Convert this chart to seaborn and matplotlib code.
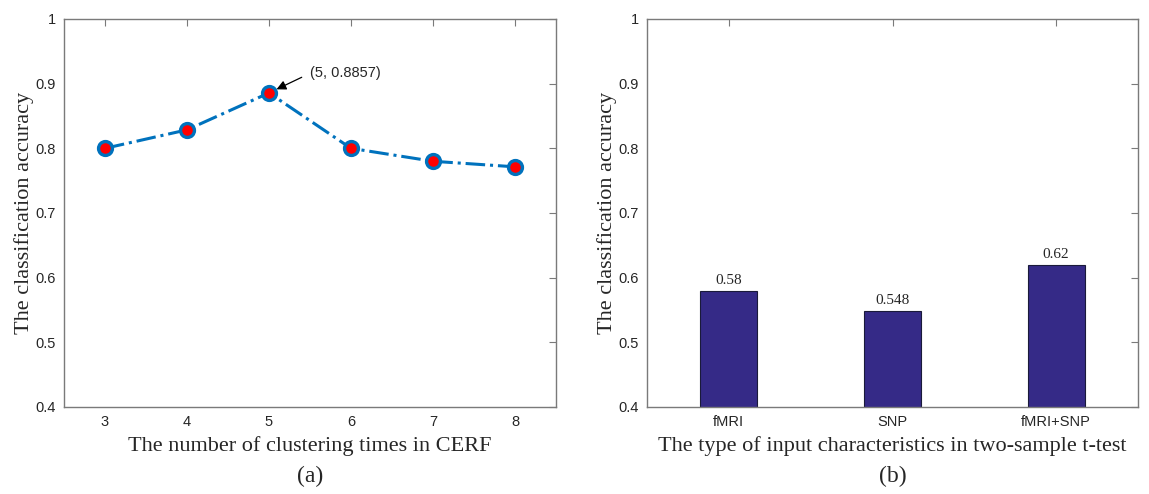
import numpy as np
import pandas as pd
import matplotlib
matplotlib.use("Agg")
import matplotlib.pyplot as plt
import seaborn as sns

# data
cluster_times = [3, 4, 5, 6, 7, 8]
cluster_acc = [0.8, 0.8286, 0.8857, 0.8, 0.78, 0.7714]

input_types = ["fMRI", "SNP", "fMRI+SNP"]
input_acc = [0.58, 0.548, 0.62]
bar_labels = ["0.58", "0.548", "0.62"]

yticks = [0.4, 0.5, 0.6, 0.7, 0.8, 0.9, 1.0]
ytick_labels = ["0.4", "0.5", "0.6", "0.7", "0.8", "0.9", "1"]

sns.set_style("white")
plt.rcParams["font.family"] = ["Liberation Sans", "DejaVu Sans"]

line_blue = "#0072BD"
bar_col = "#352A87"
spine_col = "#7a7a7a"
serif = ["Liberation Serif", "DejaVu Serif"]

fig = plt.figure(figsize=(11.49, 4.94), dpi=100)
ax1 = fig.add_axes([64 / 1149, 1 - 407 / 494, (556 - 64) / 1149, (407 - 19) / 494])
ax2 = fig.add_axes([647 / 1149, 1 - 407 / 494, (1138 - 647) / 1149, (407 - 19) / 494])


def matlab_box(ax):
    for s in ax.spines.values():
        s.set_visible(True)
        s.set_color(spine_col)
        s.set_linewidth(1.0)
    ax.tick_params(direction="in", length=5, width=0.8, color=spine_col,
                   top=True, right=True, labelsize=10.5, labelcolor="#262626", pad=6)
    ax.set_yticks(yticks)
    ax.set_yticklabels(ytick_labels)
    ax.set_ylim(0.4, 1.0)


# (a) line chart
df_a = pd.DataFrame({"times": cluster_times, "acc": cluster_acc})
sns.lineplot(data=df_a, x="times", y="acc", ax=ax1, color=line_blue,
             linestyle="-.", linewidth=2.2, marker="o", markersize=10,
             markerfacecolor="red", markeredgecolor=line_blue, markeredgewidth=2.4)
matlab_box(ax1)
ax1.set_xlim(2.5, 8.5)
ax1.set_xticks(cluster_times)
ax1.set_xlabel("The number of clustering times in CERF", fontsize=16, family=serif, labelpad=5)
ax1.set_ylabel("The classification accuracy", fontsize=16, family=serif, labelpad=1)
ax1.annotate("(5, 0.8857)", xy=(cluster_times[2], cluster_acc[2]), xytext=(5.5, 0.916),
             fontsize=10.5, va="center", ha="left",
             arrowprops=dict(arrowstyle="-|>", color="black", lw=0.9, relpos=(0, 0.5),
                             shrinkA=4, shrinkB=6, mutation_scale=14))

# (b) bar chart
df_b = pd.DataFrame({"type": input_types, "acc": input_acc})
sns.barplot(data=df_b, x="type", y="acc", ax=ax2, color=bar_col, width=0.35,
            edgecolor="#1a1a3a", linewidth=0.8, saturation=1)
matlab_box(ax2)
ax2.set_xlim(-0.5, 2.5)
for i, v in enumerate(input_acc):
    ax2.text(i, v + 0.006, bar_labels[i], ha="center", va="bottom",
             fontsize=11, family=serif)
ax2.set_xlabel("The type of input characteristics in two-sample t-test", fontsize=16,
               family=serif, labelpad=5)
ax2.set_ylabel("The classification accuracy", fontsize=16, family=serif, labelpad=1)

fig.text((64 + 556) / 2 / 1149, 1 - 476 / 494, "(a)", ha="center", va="center",
         fontsize=17, family=serif)
fig.text((647 + 1138) / 2 / 1149, 1 - 476 / 494, "(b)", ha="center", va="center",
         fontsize=17, family=serif)

fig.savefig("out.png", dpi=100)
